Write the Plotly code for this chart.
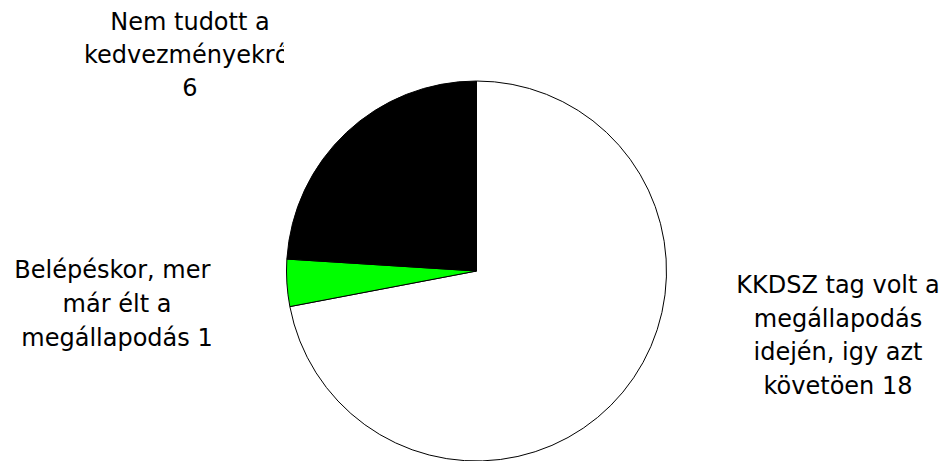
import plotly.graph_objects as go

# ---- data ----
categories = [
    "KKDSZ tag volt a megállapodás idején, igy azt követöen",
    "Belépéskor, mert már élt a megállapodás",
    "Nem tudott a kedvezményekről",
]
values = [18, 1, 6]
colors = ["#FFFFFF", "#00FF00", "#000000"]
label_lines = [
    ["KKDSZ tag volt a", "megállapodás", "idején, igy azt", "követöen {v}"],
    ["Belépéskor, mert", "már élt a", "megállapodás {v}"],
    ["Nem tudott a", "kedvezményekről", "{v}"],
]

W, H = 939, 461
FONT = dict(family="DejaVu Sans", size=24, color="black")

fig = go.Figure()

# pie: centre (476.5, 271), radius 190 px
cx, cy, r = 476.5, 271, 190
fig.add_trace(go.Pie(
    labels=categories, values=values,
    marker=dict(colors=colors, line=dict(color="black", width=1)),
    sort=False, direction="clockwise", rotation=0,
    textinfo="none", hoverinfo="label+value", showlegend=False,
    domain=dict(x=[(cx - r) / W, (cx + r) / W],
                y=[1 - (cy + r) / H, 1 - (cy - r) / H]),
))

# label boxes (clip boxes in px: x0, x1, y0, y1), centre x, first line y, line step
boxes = [
    dict(x0=700, x1=939, y0=265, y1=405, xc=838, y_first=287, step=33.7),
    dict(x0=0, x1=211, y0=250, y1=360, xc=117, y_first=272, step=34),
    dict(x0=0, x1=284, y0=5, y1=110, xc=190, y_first=24, step=33),
]

for i, (lines, v, b) in enumerate(zip(label_lines, values, boxes)):
    n = i + 1
    xa = "x" if n == 1 else f"x{n}"
    ya = "y" if n == 1 else f"y{n}"
    txt = [ln.format(v=v) for ln in lines]
    fig.add_trace(go.Scatter(
        x=[b["xc"]] * len(txt),
        y=[b["y_first"] + k * b["step"] for k in range(len(txt))],
        text=txt, mode="text", textposition="middle center",
        textfont=FONT, cliponaxis=True, hoverinfo="skip",
        showlegend=False, xaxis=xa, yaxis=ya,
    ))
    axkey = "xaxis" if n == 1 else f"xaxis{n}"
    aykey = "yaxis" if n == 1 else f"yaxis{n}"
    fig.update_layout(**{
        axkey: dict(domain=[b["x0"] / W, b["x1"] / W], range=[b["x0"], b["x1"]],
                    visible=False, fixedrange=True, anchor=ya),
        aykey: dict(domain=[1 - b["y1"] / H, 1 - b["y0"] / H], range=[b["y1"], b["y0"]],
                    visible=False, fixedrange=True, anchor=xa),
    })

fig.update_layout(
    width=W, height=H,
    margin=dict(l=0, r=0, t=0, b=0),
    paper_bgcolor="white", plot_bgcolor="rgba(0,0,0,0)",
    showlegend=False,
)

fig.write_html(
    "out.html",
    config={"displayModeBar": False},
    post_script="document.body.style.margin='0';document.body.style.overflow='hidden';",
)
